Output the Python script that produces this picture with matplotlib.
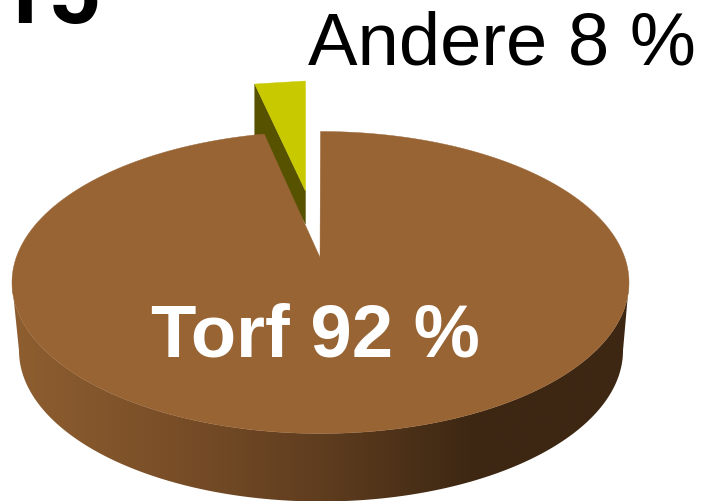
import numpy as np
import matplotlib
matplotlib.use("Agg")
import matplotlib.pyplot as plt
from matplotlib.colors import LinearSegmentedColormap
from matplotlib.patches import Polygon

categories = ["Torf", "Andere"]
shares = [92, 8]
labels = ["Torf 92 %", "Andere 8 %"]
clipped_title = "2015"

W, H = 703, 502
plt.rcParams["font.family"] = ["Liberation Sans", "DejaVu Sans"]
fig = plt.figure(figsize=(W / 100, H / 100), dpi=100)
ax = fig.add_axes([0, 0, 1, 1])
ax.set_xlim(0, W)
ax.set_ylim(H, 0)
ax.axis("off")

# projected disc geometry
cx, cy, rx, ry = 320.5, 283.5, 308.5, 151.0
bcx, bcy, brx, bry = 321.0, 351.5, 302.0, 151.0
apex = np.array([320.0, 258.5])
persp = 0.365   # foreshortening of the angle at the far rim

sweep = np.deg2rad(360 * shares[1] / sum(shares) * persp)
BROWN = "#986434"
YELLOW = "#c9c900"
DARKY = "#565200"

# side wall: smooth horizontal gradient clipped to the wall outline
cmap = LinearSegmentedColormap.from_list(
    "wall", ["#8e5e30", "#7a4f28", "#5f3d1f", "#3d2713", "#3d2713"])
grad = np.linspace(0, 1, 512)[None, :]
im = ax.imshow(grad, cmap=cmap, extent=(cx - rx, cx + rx, H, 0),
               aspect="auto", zorder=1, interpolation="bilinear")
ax.set_xlim(0, W)
ax.set_ylim(H, 0)
t = np.linspace(-np.pi / 2, np.pi / 2, 400)
top = np.c_[cx + rx * np.sin(t), cy + ry * np.cos(t)]
bot = np.c_[bcx + brx * np.sin(t), bcy + bry * np.cos(t)]
wall = Polygon(np.vstack([top, bot[::-1]]), closed=True, transform=ax.transData, fc="none", ec="none")
ax.add_patch(wall)
im.set_clip_path(wall)

# exploded slice "Andere"
rim = np.array([cx - rx * np.sin(sweep), cy - ry * np.cos(sweep)])
shift = np.array([-9.5, -50.0])
ya_tl = rim + shift
ya_tr = np.array([305.5, 82.0])
ya = np.array([305.5, 192.0])
ya_low = np.array([305.5, 225.0])
ax.add_patch(Polygon([ya_tl, ya_tl + [0, 52], ya_low, ya], closed=True, fc=DARKY, ec=DARKY, lw=0.3, zorder=2))
ax.add_patch(Polygon([ya_tl, ya_tr, ya], closed=True, fc=YELLOW, ec=YELLOW, lw=0.3, zorder=3))

# top face "Torf"
th = np.linspace(0, 2 * np.pi - sweep, 500)
arc = np.c_[cx + rx * np.sin(th), cy - ry * np.cos(th)]
ax.add_patch(Polygon(np.vstack([apex, arc]), closed=True, fc=BROWN, ec=BROWN, lw=0.3, zorder=4))

ax.text(315, 329.5, labels[0], color="white", fontsize=53.5, fontweight="bold",
        ha="center", va="center_baseline", zorder=5)
ax.text(502, 37.5, labels[1], color="black", fontsize=53.5, ha="center", va="center_baseline", zorder=5)
ax.text(102, 23, clipped_title, color="black", fontsize=66, fontweight="bold", family="Roboto",
        ha="right", va="baseline", zorder=5)

fig.savefig("out.png", dpi=100)
